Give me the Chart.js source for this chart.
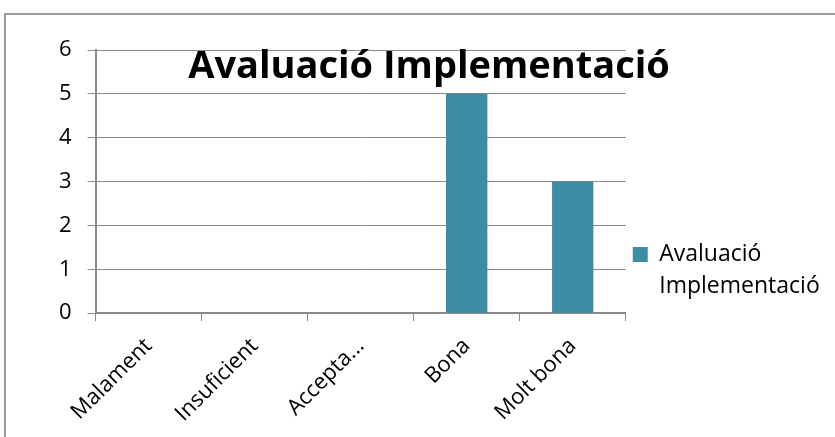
<!DOCTYPE html>
<html>
<head>
<meta charset="utf-8">
<script src="https://cdn.jsdelivr.net/npm/chart.js@4"></script>
<style>
  html, body { margin: 0; padding: 0; background: #fff; }
  #wrap { width: 835px; height: 437px; position: relative; }
</style>
</head>
<body>
<div id="wrap"><canvas id="chart"></canvas></div>
<script>
const categories = ['Malament', 'Insuficient', 'Accepta...', 'Bona', 'Molt bona'];
const values = [0, 0, 0, 5, 3];
const seriesName = 'Avaluació Implementació';
const chartTitle = 'Avaluació Implementació';
const yTicks = [0, 1, 2, 3, 4, 5, 6];

const barColor = '#3E8BA5';
const gridColor = '#898989';
const font = "'Open Sans', sans-serif";

// outer frame + title drawn over the plot like the original
const decor = {
  id: 'decor',
  beforeDraw(chart) {
    const ctx = chart.ctx;
    ctx.save();
    ctx.strokeStyle = '#9a9a9a';
    ctx.lineWidth = 2;
    ctx.strokeRect(5, 14, 900, 500);
    ctx.restore();
  },
  afterDraw(chart) {
    const ctx = chart.ctx;
    ctx.save();
    ctx.font = "bold 38px 'Open Sans', sans-serif";
    ctx.fillStyle = '#000';
    ctx.textAlign = 'center';
    ctx.textBaseline = 'alphabetic';
    ctx.fillText(chartTitle, 429, 78);
    ctx.restore();
  }
};

Chart.defaults.color = '#000';
Chart.defaults.font.family = font;

new Chart(document.getElementById('chart'), {
  type: 'bar',
  plugins: [decor],
  data: {
    labels: categories,
    datasets: [{
      label: seriesName,
      data: values,
      backgroundColor: barColor,
      barPercentage: 0.39,
      categoryPercentage: 1.0,
    }]
  },
  options: {
    animation: false,
    responsive: true,
    maintainAspectRatio: false,
    layout: {
      padding: { left: 43, top: 50, right: 15, bottom: -2 }
    },
    plugins: {
      tooltip: { enabled: false },
      title: { display: false },
      legend: {
        position: 'right',
        // empty title only pushes the entry down a bit
        title: { display: true, text: '', font: { size: 1 }, padding: { top: 0, bottom: 60 } },
        labels: {
          boxWidth: 15,
          boxHeight: 15,
          padding: 7,
          font: { size: 23, lineHeight: 1.4 },
          generateLabels(chart) {
            const items = Chart.defaults.plugins.legend.labels.generateLabels(chart);
            items.forEach(it => { it.text = it.text.split(' '); it.lineWidth = 0; });
            return items;
          }
        }
      }
    },
    scales: {
      x: {
        grid: {
          display: true,
          drawOnChartArea: false,
          drawTicks: true,
          tickLength: 8,
          color: gridColor,
        },
        border: { color: gridColor, width: 2 },
        ticks: {
          font: { size: 22 },
          maxRotation: 45,
          minRotation: 45,
          autoSkip: false,
          padding: 12,
        }
      },
      y: {
        min: 0,
        max: 6,
        afterBuildTicks(scale) {
          scale.ticks = yTicks.map(v => ({ value: v }));
        },
        grid: {
          color: gridColor,
          tickLength: 8,
        },
        border: { color: gridColor, width: 2 },
        ticks: {
          font: { size: 22 },
          padding: 16,
          stepSize: 1,
        }
      }
    }
  }
});
</script>
</body>
</html>
